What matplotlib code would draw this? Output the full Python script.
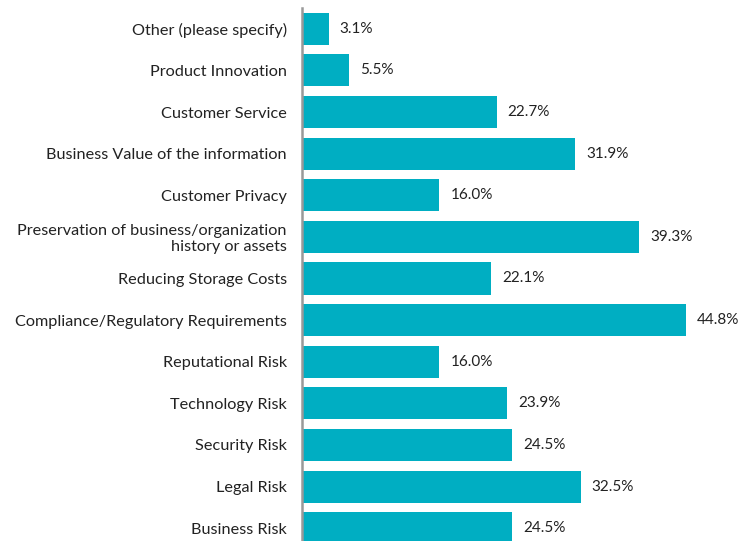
import matplotlib.pyplot as plt

categories = [
    "Other (please specify)",
    "Product Innovation",
    "Customer Service",
    "Business Value of the information",
    "Customer Privacy",
    "Preservation of business/organization\nhistory or assets",
    "Reducing Storage Costs",
    "Compliance/Regulatory Requirements",
    "Reputational Risk",
    "Technology Risk",
    "Security Risk",
    "Legal Risk",
    "Business Risk",
]
values = [3.1, 5.5, 22.7, 31.9, 16.0, 39.3, 22.1, 44.8, 16.0, 23.9, 24.5, 32.5, 24.5]

plt.rcParams['font.family'] = ['Lato', 'DejaVu Sans']

fig = plt.figure(figsize=(7.42, 5.41), dpi=100)
# axes placed in pixels: left 302, right 740, top 8, bottom 549
ax = fig.add_axes([302 / 742, (541 - 549) / 541, 438 / 742, 541 / 541])

y = range(len(categories))
ax.barh(y, values, height=0.77, color='#00AEC2')
for i, v in enumerate(values):
    ax.text(v + 1.3, i, f"{v:.1f}%", va='center', ha='left', fontsize=11, color='#222222')

ax.set_yticks(list(y))
ax.set_yticklabels(categories, fontsize=11.7, color='#222222', linespacing=1.12)
ax.set_ylim(len(categories) - 0.5, -0.5)
ax.set_xlim(0, 51.1)
ax.tick_params(axis='y', length=0, pad=11)
ax.set_xticks([])
for s in ['top', 'right', 'bottom']:
    ax.spines[s].set_visible(False)
ax.spines['left'].set_color('#999999')
ax.spines['left'].set_linewidth(1.8)

fig.savefig('out.png', dpi=100)
